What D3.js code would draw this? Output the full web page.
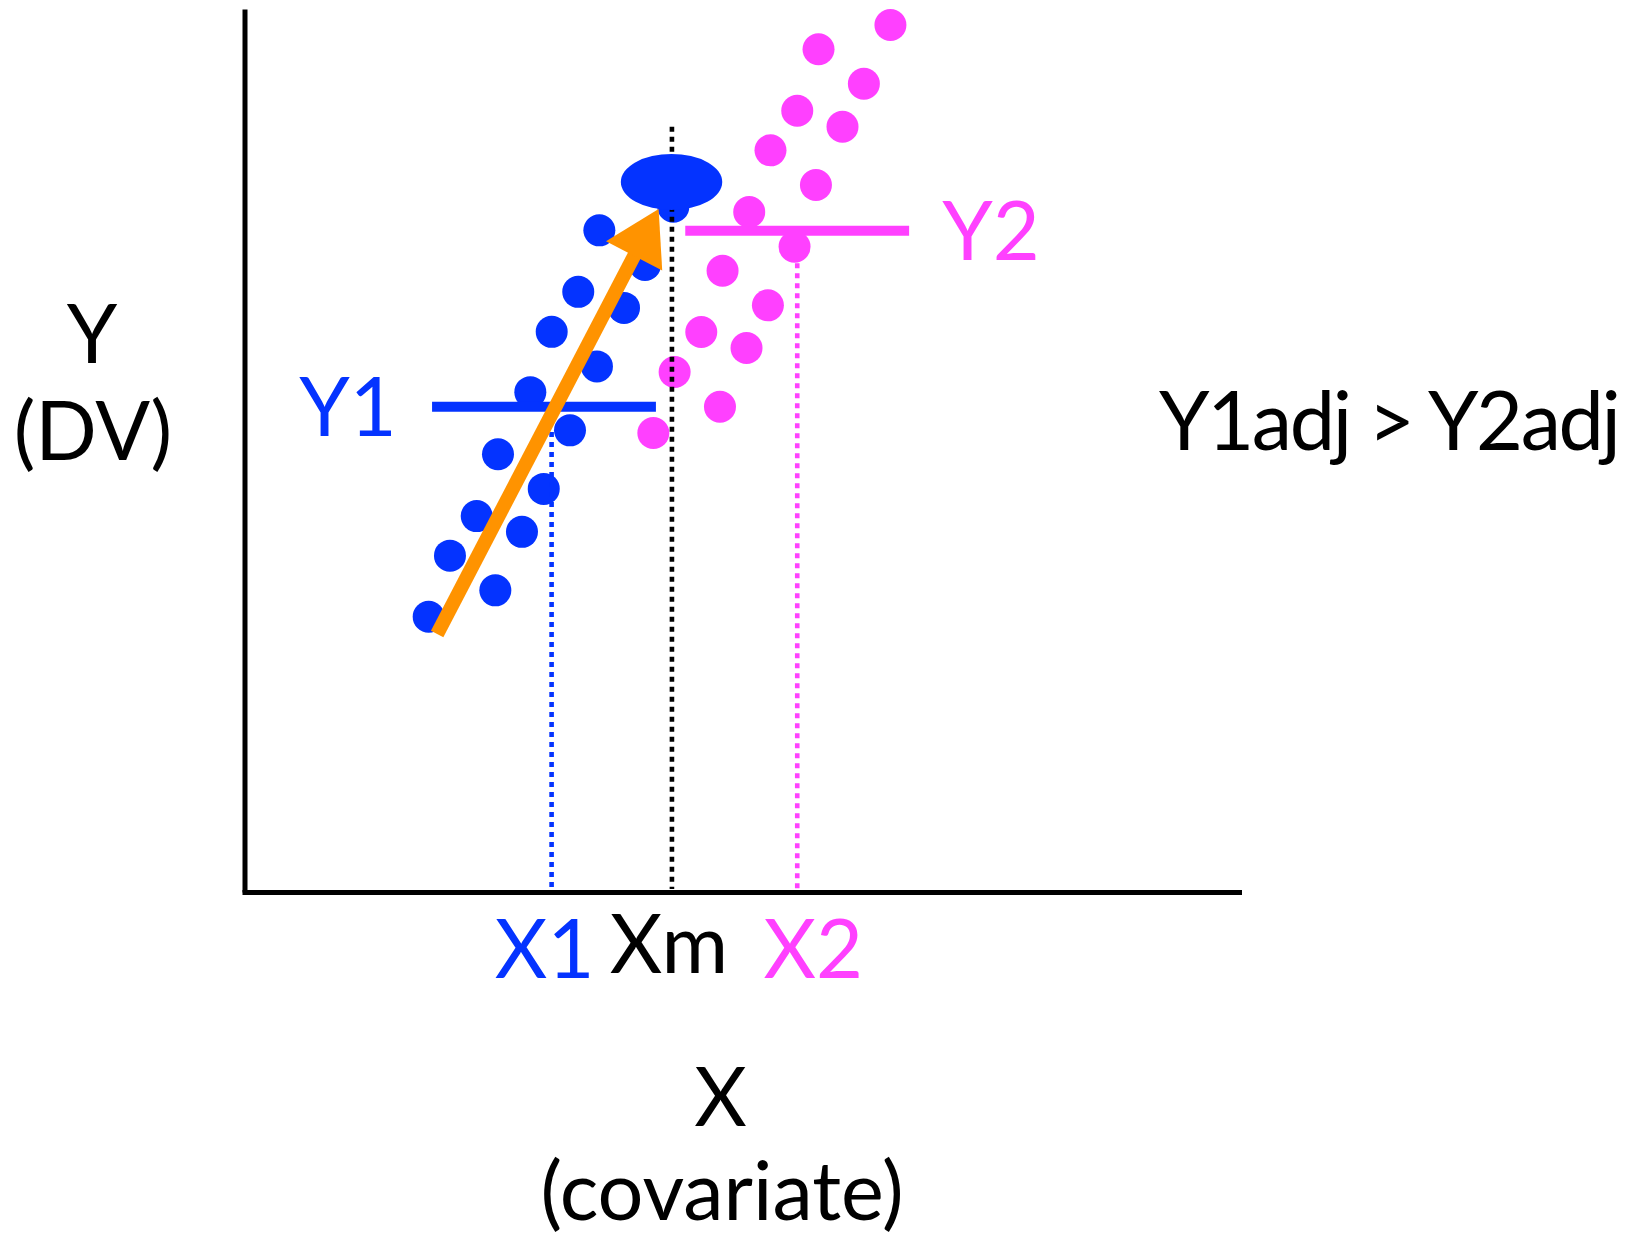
<!DOCTYPE html>
<html>
<head>
<meta charset="utf-8">
<script src="https://cdn.jsdelivr.net/npm/d3@7"></script>
<style>
  html, body { margin: 0; padding: 0; background: #fff; }
  svg { display: block; }
  text { font-family: Lato, "Open Sans", sans-serif; }
</style>
</head>
<body>
<svg id="chart" width="1642" height="1239"></svg>
<script>
// Group 1 (blue) observations: covariate X, outcome Y
const group1X = [35.68, 40.27, 33.56, 38.16, 30.89, 35.44, 28.74, 32.73, 25.49, 30.09, 23.35, 27.90, 20.66, 25.22, 18.52, 43.12];
const group1Y = [74.93, 71.01, 67.97, 66.15, 63.44, 59.52, 56.61, 52.28, 49.57, 45.65, 42.57, 40.79, 38.09, 34.16, 31.17, 77.60];

// Group 2 (magenta) observations
const group2X = [64.95, 57.72, 62.28, 55.58, 60.13, 52.89, 57.46, 50.75, 55.31, 48.07, 52.63, 45.93, 50.48, 43.25, 47.81, 41.11];
const group2Y = [98.19, 95.44, 91.54, 88.48, 86.67, 83.99, 80.07, 77.01, 73.08, 70.36, 66.44, 63.42, 61.61, 58.89, 54.96, 51.98];

// Group means and the grand covariate mean
const meanX = { X1: 30.88, Xm: 42.98, X2: 55.58 };
const meanY = { Y1: 54.95, Y2: 74.89 };
// Horizontal extent of each group-mean bar
const y1Span = [18.86, 41.37];
const y2Span = [44.32, 66.83];
// Top ends of the dotted drop lines
const dropTop = { X1: 52.10, Xm: 86.66, X2: 71.20 };
// Adjusted mean of group 1 at Xm, and the regression arrow
const adjustedPoint = { x: 42.94, y: 80.41 };
const arrowFrom = { x: 19.37, y: 29.23 };
const arrowTo = { x: 41.64, y: 77.36 };

// Text labels
const xTickLabels = ["X1", "Xm", "X2"];
const yGroupLabels = ["Y1", "Y2"];
const xTitle = ["X", "(covariate)"];
const yTitle = ["Y", "(DV)"];
const comparison = "Y1adj > Y2adj";

const BLUE = "#0433FF", PINK = "#FF40FF", ORANGE = "#FF9300";

const svg = d3.select("#chart");
const x = d3.scaleLinear().domain([0, 100]).range([244.5, 1239]);
const y = d3.scaleLinear().domain([0, 100]).range([892, 9]);

// Dots
const dotR = 16;
svg.append("g").selectAll("circle").data(d3.zip(group1X, group1Y)).join("circle")
  .attr("cx", d => x(d[0])).attr("cy", d => y(d[1])).attr("r", dotR).attr("fill", BLUE);
svg.append("g").selectAll("circle").data(d3.zip(group2X, group2Y)).join("circle")
  .attr("cx", d => x(d[0])).attr("cy", d => y(d[1])).attr("r", dotR).attr("fill", PINK);

// Dotted drop lines to the X axis
const drops = [
  { k: "X1", c: BLUE }, { k: "Xm", c: "#000" }, { k: "X2", c: PINK }
];
svg.append("g").selectAll("line").data(drops).join("line")
  .attr("x1", d => x(meanX[d.k])).attr("x2", d => x(meanX[d.k]))
  .attr("y1", d => y(dropTop[d.k])).attr("y2", y(0) - 3)
  .attr("stroke", d => d.c).attr("stroke-width", 4.6)
  .attr("stroke-dasharray", "5,5");

// Group-mean horizontal bars
svg.append("line")
  .attr("x1", x(y1Span[0])).attr("x2", x(y1Span[1]))
  .attr("y1", y(meanY.Y1)).attr("y2", y(meanY.Y1))
  .attr("stroke", BLUE).attr("stroke-width", 10);
svg.append("line")
  .attr("x1", x(y2Span[0])).attr("x2", x(y2Span[1]))
  .attr("y1", y(meanY.Y2)).attr("y2", y(meanY.Y2))
  .attr("stroke", PINK).attr("stroke-width", 10);

// Adjusted mean
svg.append("ellipse")
  .attr("cx", x(adjustedPoint.x)).attr("cy", y(adjustedPoint.y))
  .attr("rx", 50.7).attr("ry", 28).attr("fill", BLUE);

// Regression arrow
{
  const x0 = x(arrowFrom.x), y0 = y(arrowFrom.y);
  const x1 = x(arrowTo.x), y1 = y(arrowTo.y);
  const len = Math.hypot(x1 - x0, y1 - y0);
  const ux = (x1 - x0) / len, uy = (y1 - y0) / len;
  const px = -uy, py = ux;
  const headLen = 53, headHalf = 31.7;
  const bx = x1 - ux * headLen, by = y1 - uy * headLen;
  svg.append("line")
    .attr("x1", x0).attr("y1", y0).attr("x2", bx + ux * 2).attr("y2", by + uy * 2)
    .attr("stroke", ORANGE).attr("stroke-width", 14);
  svg.append("path")
    .attr("d", d3.line()([[x1, y1], [bx + px * headHalf, by + py * headHalf], [bx - px * headHalf, by - py * headHalf]]) + "Z")
    .attr("fill", ORANGE);
}

// Axes (lines only)
const axisB = svg.append("g").attr("transform", `translate(0,${y(0)})`)
  .call(d3.axisBottom(x).tickValues([]).tickSizeOuter(0));
const axisL = svg.append("g").attr("transform", `translate(${x(0)},0)`)
  .call(d3.axisLeft(y).tickValues([]).tickSizeOuter(0));
svg.selectAll(".domain").attr("stroke", "#000").attr("stroke-width", 5);
axisB.select(".domain").attr("stroke-linecap", "square");

// Labels
const FS = 81;
const txt = (s, cx, by, color) => svg.append("text")
  .attr("x", cx).attr("y", by).attr("text-anchor", "middle")
  .attr("font-size", FS).attr("fill", color).text(s);

txt(xTickLabels[0], x(meanX.X1) - 7, 977.5, BLUE);
txt(xTickLabels[1], x(meanX.Xm) - 3, 972.5, "#000");
txt(xTickLabels[2], x(meanX.X2) + 16, 977.5, PINK);

txt(yGroupLabels[0], 348, 436, BLUE);
txt(yGroupLabels[1], 991, 260, PINK);

txt(xTitle[0], 720.5, 1126, "#000");
txt(xTitle[1], 722, 1220, "#000");
txt(yTitle[0], 92, 363, "#000");
txt(yTitle[1], 93, 460, "#000");

txt(comparison, 1390, 450, "#000")
  .attr("textLength", 462).attr("lengthAdjust", "spacing");
</script>
</body>
</html>
